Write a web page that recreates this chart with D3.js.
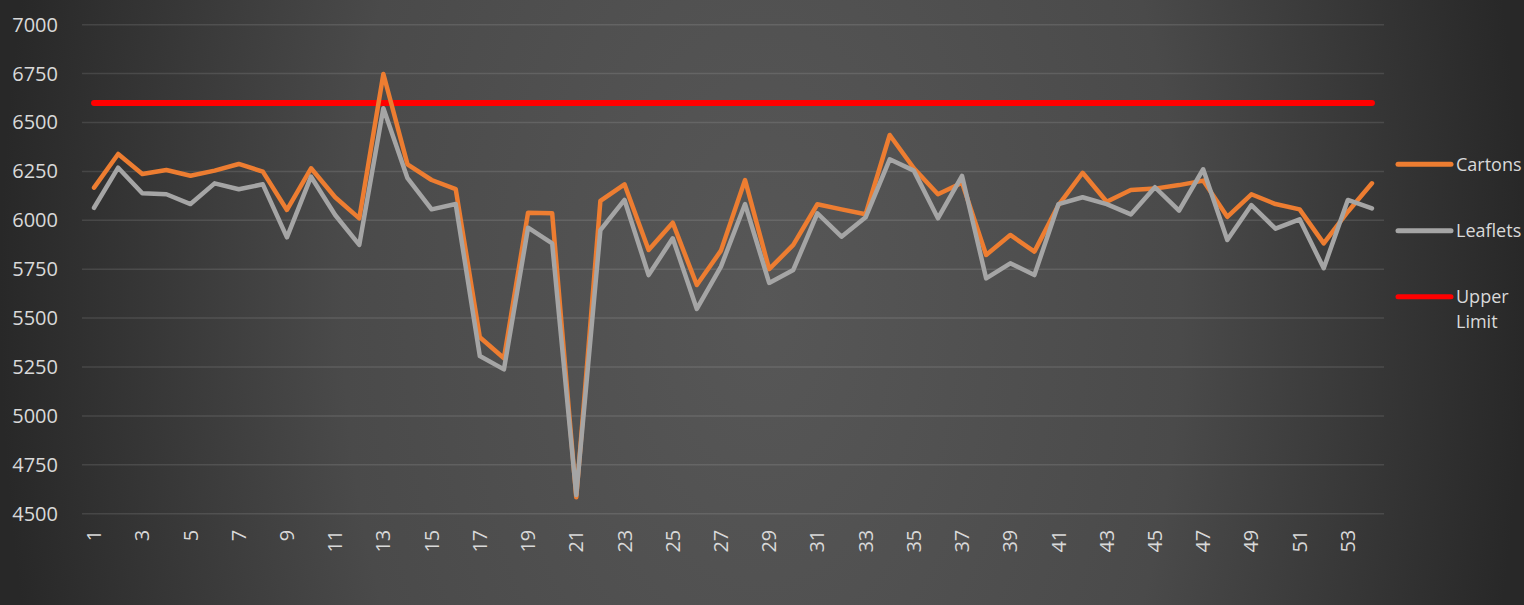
<!DOCTYPE html>
<html>
<head>
<meta charset="utf-8">
<script src="https://cdn.jsdelivr.net/npm/d3@7"></script>
<style>
  html, body { margin: 0; padding: 0; background: #2a2a2a; }
  svg { display: block; }
</style>
</head>
<body>
<svg id="chart" width="1524" height="605"></svg>
<script>
// Weekly counts per category
const categories = ["1","2","3","4","5","6","7","8","9","10","11","12","13","14","15","16","17","18","19","20","21","22","23","24","25","26","27","28","29","30","31","32","33","34","35","36","37","38","39","40","41","42","43","44","45","46","47","48","49","50","51","52","53","54"];
const tickLabels = ["1","3","5","7","9","11","13","15","17","19","21","23","25","27","29","31","33","35","37","39","41","43","45","47","49","51","53"];
const cartons = [6167,6339,6237,6257,6228,6254,6288,6249,6053,6266,
                 6118,6010,6748,6286,6206,6159,5402,5295,6039,6036,
                 4584,6099,6184,5848,5988,5669,5845,6206,5750,5874,
                 6082,6056,6031,6436,6266,6133,6192,5823,5925,5840,
                 6078,6243,6095,6155,6162,6180,6203,6018,6133,6083,
                 6056,5882,6044,6189];
const leaflets = [6064,6269,6138,6133,6083,6189,6159,6184,5913,6223,
                  6027,5874,6573,6215,6056,6083,5306,5238,5962,5882,
                  4596,5950,6104,5720,5908,5547,5763,6083,5680,5746,
                  6036,5916,6015,6312,6254,6010,6227,5703,5780,5720,
                  6083,6118,6083,6030,6169,6049,6261,5899,6078,5957,
                  6005,5755,6104,6061];
const upperLimit = 6600;
const yTicks = [4500,4750,5000,5250,5500,5750,6000,6250,6500,6750,7000];
const seriesNames = ["Cartons", "Leaflets", "Upper Limit"];

const W = 1524, H = 605;
const plot = { left: 82, right: 1384, top: 24.7, bottom: 513.7 };
const colors = { cartons: "#ED7D31", leaflets: "#A5A5A5", limit: "#FF0000" };
const textColor = "#d9d9d9";
const font = "'Open Sans', 'Noto Sans', sans-serif";

const svg = d3.select("#chart");

// Background: dark edges, lighter middle
const defs = svg.append("defs");
const grad = defs.append("radialGradient")
  .attr("id", "bg")
  .attr("gradientUnits", "userSpaceOnUse")
  .attr("cx", W / 2).attr("cy", H / 2).attr("r", W / 2)
  .attr("gradientTransform", `translate(${W/2},${H/2}) scale(1,1.7) translate(${-W/2},${-H/2})`);
grad.append("stop").attr("offset", "0%").attr("stop-color", "#575757");
grad.append("stop").attr("offset", "55%").attr("stop-color", "#4a4a4a");
grad.append("stop").attr("offset", "100%").attr("stop-color", "#282828");
svg.append("rect").attr("width", W).attr("height", H).attr("fill", "url(#bg)");

const x = d3.scaleBand().domain(categories).range([plot.left, plot.right]);
const y = d3.scaleLinear().domain([4500, 7000]).range([plot.bottom, plot.top]);
const cx = c => x(c) + x.bandwidth() / 2;

// Horizontal gridlines
svg.append("g")
  .selectAll("line")
  .data(yTicks)
  .join("line")
  .attr("x1", plot.left).attr("x2", plot.right)
  .attr("y1", d => y(d)).attr("y2", d => y(d))
  .attr("stroke", "rgba(255,255,255,0.11)")
  .attr("stroke-width", 1.5);

// Y axis labels
const yAxis = svg.append("g")
  .attr("transform", `translate(${plot.left - 24},0)`)
  .call(d3.axisLeft(y).tickValues(yTicks).tickFormat(d3.format("d")).tickSize(0).tickPadding(0));
yAxis.select(".domain").remove();
yAxis.selectAll("text")
  .attr("fill", textColor)
  .style("font-family", font)
  .style("font-size", "20px");

// X axis labels, rotated
const xAxis = svg.append("g")
  .attr("transform", `translate(0,${plot.bottom})`)
  .call(d3.axisBottom(x).tickValues(tickLabels).tickSize(0).tickPadding(0));
xAxis.select(".domain").remove();
xAxis.selectAll("text")
  .attr("fill", textColor)
  .style("font-family", font)
  .style("font-size", "20px")
  .attr("text-anchor", "end")
  .attr("transform", "rotate(-90)")
  .attr("x", -16)
  .attr("y", 0)
  .attr("dy", "0.35em");

// Upper limit line
svg.append("line")
  .attr("x1", cx(categories[0])).attr("x2", cx(categories[categories.length - 1]))
  .attr("y1", y(upperLimit)).attr("y2", y(upperLimit))
  .attr("stroke", colors.limit)
  .attr("stroke-width", 6)
  .attr("stroke-linecap", "round");

const line = d3.line()
  .x((d, i) => cx(categories[i]))
  .y(d => y(d));

svg.append("path")
  .datum(cartons)
  .attr("d", line)
  .attr("fill", "none")
  .attr("stroke", colors.cartons)
  .attr("stroke-width", 4.5)
  .attr("stroke-linejoin", "round")
  .attr("stroke-linecap", "round");

svg.append("path")
  .datum(leaflets)
  .attr("d", line)
  .attr("fill", "none")
  .attr("stroke", colors.leaflets)
  .attr("stroke-width", 4.5)
  .attr("stroke-linejoin", "round")
  .attr("stroke-linecap", "round");

// Legend
const legendItems = [
  { name: seriesNames[0], color: colors.cartons, y: 164.3, lines: ["Cartons"] },
  { name: seriesNames[1], color: colors.leaflets, y: 230.7, lines: ["Leaflets"] },
  { name: seriesNames[2], color: colors.limit, y: 296.7, lines: ["Upper", "Limit"] }
];
const lg = svg.append("g");
legendItems.forEach(item => {
  lg.append("line")
    .attr("x1", 1398).attr("x2", 1451)
    .attr("y1", item.y).attr("y2", item.y)
    .attr("stroke", item.color)
    .attr("stroke-width", 5)
    .attr("stroke-linecap", "round");
  const t = lg.append("text")
    .attr("x", 1456).attr("y", item.y)
    .attr("fill", textColor)
    .style("font-family", font)
    .style("font-size", "18px");
  item.lines.forEach((s, i) => {
    t.append("tspan")
      .attr("x", 1456)
      .attr("dy", i === 0 ? "0.35em" : "1.4em")
      .text(s);
  });
});
</script>
</body>
</html>
